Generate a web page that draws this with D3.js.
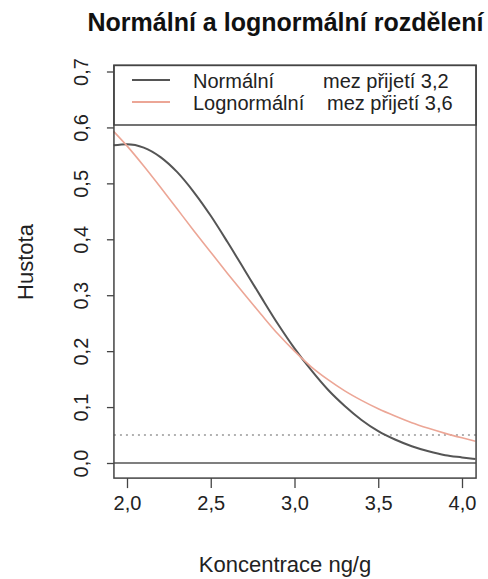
<!DOCTYPE html>
<html>
<head>
<meta charset="utf-8">
<script src="https://cdn.jsdelivr.net/npm/d3@7"></script>
<style>
  body { margin: 0; background: #fff; }
  svg { display: block; font-family: "Liberation Sans", Arial, sans-serif; }
</style>
</head>
<body>
<svg id="chart" width="488" height="579"></svg>
<script>
// koncentrace (osa x) a odečtené hustoty obou rozdělení
const concentration = [1.92, 2.0, 2.1, 2.2, 2.3, 2.4, 2.5, 2.6, 2.7, 2.8, 2.9, 3.0,
  3.1, 3.2, 3.3, 3.4, 3.5, 3.6, 3.7, 3.8, 3.9, 4.0, 4.08];
const normalDensity = [0.568, 0.570, 0.564, 0.547, 0.520, 0.484, 0.442, 0.395, 0.346, 0.297, 0.249, 0.205,
  0.166, 0.131, 0.102, 0.077, 0.057, 0.042, 0.030, 0.021, 0.014, 0.010, 0.007];
const lognormalDensity = [0.593, 0.567, 0.531, 0.493, 0.454, 0.415, 0.377, 0.339, 0.302, 0.266, 0.231, 0.200,
  0.172, 0.149, 0.129, 0.112, 0.097, 0.084, 0.072, 0.062, 0.053, 0.045, 0.039];
const acceptLevel = 0.05;

const xTicks = [2.0, 2.5, 3.0, 3.5, 4.0];
const yTicks = [0, 0.1, 0.2, 0.3, 0.4, 0.5, 0.6, 0.7];
const xLimits = [1.922, 4.084];
const yLimits = [-0.027, 0.711];

const seriesNames = ["Normální", "Lognormální"];
const seriesLimits = ["mez přijetí 3,2", "mez přijetí 3,6"];
const seriesColors = ["#555555", "#eca696"];

const chartTitle = "Normální a lognormální rozdělení";
const xTitle = "Koncentrace ng/g";
const yTitle = "Hustota";

const svg = d3.select("#chart");

const x = d3.scaleLinear().domain([2, 4]).range([127, 462]);
const y = d3.scaleLinear().domain([0, 0.7]).range([463, 71.5]);

const plotLeft = x(xLimits[0]), plotRight = x(xLimits[1]);
const plotTop = y(yLimits[1]), plotBottom = y(yLimits[0]);

const comma = d => d3.format(".1f")(d).replace(".", ",");

// osa x
const gx = svg.append("g")
  .attr("transform", `translate(0,${plotBottom})`)
  .call(d3.axisBottom(x).tickValues(xTicks).tickFormat(comma).tickSize(10).tickPadding(8));
gx.select(".domain").remove();
gx.selectAll("line").attr("stroke", "#444").attr("stroke-width", 1.3);
gx.selectAll("text").attr("font-size", 20).attr("fill", "#222");

// osa y - popisky otočené
const gy = svg.append("g")
  .attr("transform", `translate(${plotLeft},0)`)
  .call(d3.axisLeft(y).tickValues(yTicks).tickFormat(comma).tickSize(7));
gy.select(".domain").remove();
gy.selectAll("line").attr("stroke", "#444").attr("stroke-width", 1.3);
gy.selectAll("text")
  .attr("transform", "rotate(-90)")
  .attr("x", 0)
  .attr("y", -26)
  .attr("dy", 0)
  .attr("text-anchor", "middle")
  .attr("font-size", 20)
  .attr("fill", "#222");

// vodorovné čáry: nula a hladina 0,05
svg.append("line")
  .attr("x1", plotLeft).attr("x2", plotRight)
  .attr("y1", y(0)).attr("y2", y(0))
  .attr("stroke", "#555").attr("stroke-width", 1.5);
svg.append("line")
  .attr("x1", plotLeft).attr("x2", plotRight)
  .attr("y1", y(acceptLevel)).attr("y2", y(acceptLevel))
  .attr("stroke", "#999").attr("stroke-width", 1.5)
  .attr("stroke-dasharray", "2,4");

// křivky
const line = d3.line().x(d => x(d[0])).y(d => y(d[1])).curve(d3.curveMonotoneX);
[normalDensity, lognormalDensity].forEach((vals, i) => {
  svg.append("path")
    .datum(concentration.map((c, j) => [c, vals[j]]))
    .attr("d", line)
    .attr("fill", "none")
    .attr("stroke", seriesColors[i])
    .attr("stroke-width", i === 0 ? 2 : 1.6);
});

// legenda
const legBottom = 125;
svg.append("rect")
  .attr("x", plotLeft).attr("y", plotTop)
  .attr("width", plotRight - plotLeft).attr("height", legBottom - plotTop)
  .attr("fill", "#fff").attr("stroke", "#444").attr("stroke-width", 1.5);
seriesNames.forEach((name, i) => {
  const ly = 80 + i * 22;
  svg.append("line")
    .attr("x1", 132).attr("x2", 170)
    .attr("y1", ly).attr("y2", ly)
    .attr("stroke", seriesColors[i]).attr("stroke-width", 2);
  svg.append("text")
    .attr("x", 193).attr("y", ly + 8)
    .attr("font-size", 20).attr("fill", "#222")
    .text(name);
  svg.append("text")
    .attr("x", i === 0 ? 323 : 327).attr("y", ly + 8)
    .attr("font-size", 20).attr("fill", "#222")
    .text(seriesLimits[i]);
});

// rámeček grafu
svg.append("rect")
  .attr("x", plotLeft).attr("y", plotTop)
  .attr("width", plotRight - plotLeft).attr("height", plotBottom - plotTop)
  .attr("fill", "none").attr("stroke", "#444").attr("stroke-width", 1.5);

// titulky
svg.append("text")
  .attr("x", 285.5).attr("y", 31)
  .attr("text-anchor", "middle")
  .attr("font-size", 25).attr("font-weight", "bold").attr("fill", "#111")
  .text(chartTitle);

svg.append("text")
  .attr("x", 285).attr("y", 572)
  .attr("text-anchor", "middle")
  .attr("font-size", 22).attr("fill", "#222")
  .text(xTitle);

svg.append("text")
  .attr("transform", "translate(33,262) rotate(-90)")
  .attr("text-anchor", "middle")
  .attr("font-size", 22).attr("fill", "#222")
  .text(yTitle);
</script>
</body>
</html>
